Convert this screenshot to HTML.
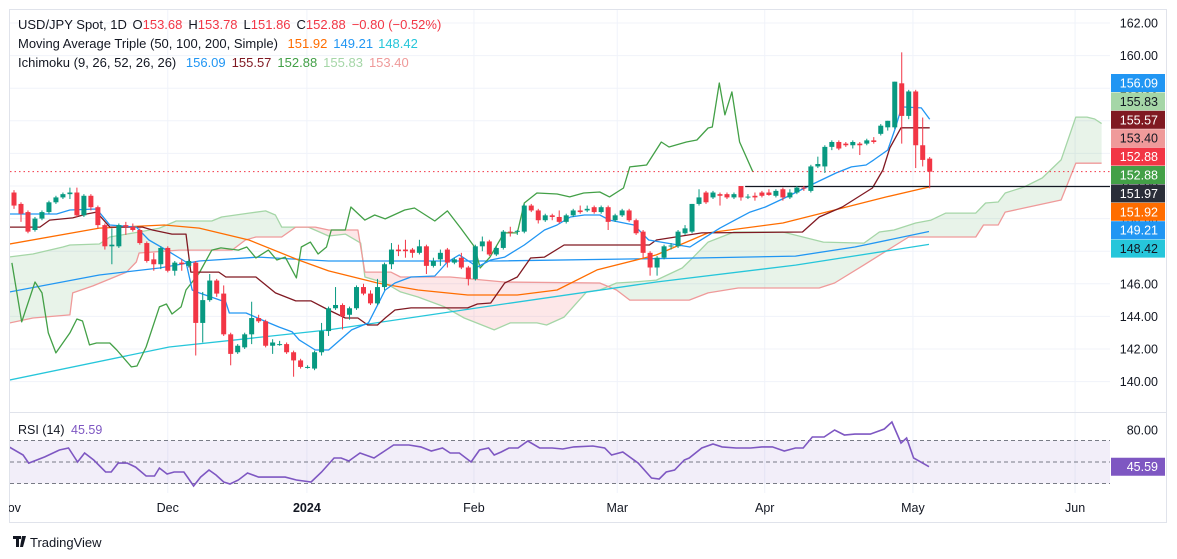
<!DOCTYPE html>
<html><head><meta charset="utf-8"><style>
html,body{margin:0;padding:0;background:#fff;width:1177px;height:559px;overflow:hidden}
svg{display:block;font-family:"Liberation Sans",sans-serif}
</style></head><body>
<svg id="chart" width="1177" height="559" viewBox="0 0 1177 559">
<defs>
<clipPath id="mainClip"><rect x="10" y="10" width="1100" height="402"/></clipPath>
<clipPath id="rsiClip"><rect x="10" y="413" width="1100" height="80"/></clipPath>
<clipPath id="timeClip"><rect x="9" y="495" width="1157" height="26"/></clipPath>
</defs>
<rect x="9.5" y="9.5" width="1157" height="513" fill="#fff" stroke="#e0e3eb"/>
<g id="grid"></g>
<g id="cloud" clip-path="url(#mainClip)"></g>
<g id="lines" clip-path="url(#mainClip)"></g>
<g id="candles" clip-path="url(#mainClip)"></g>
<g id="axis"></g>
<g id="rsi"></g>
<g id="time" clip-path="url(#timeClip)"></g>

<g font-size="13">
<text x="18" y="29" fill="#131722">USD/JPY Spot, 1D <tspan dx="2">O</tspan><tspan fill="#f23645">153.68</tspan><tspan dx="6">H</tspan><tspan fill="#f23645">153.78</tspan><tspan dx="6">L</tspan><tspan fill="#f23645">151.86</tspan><tspan dx="6">C</tspan><tspan fill="#f23645">152.88</tspan><tspan dx="6" fill="#f23645">−0.80 (−0.52%)</tspan></text>
<text x="18" y="48" fill="#131722">Moving Average Triple (50, 100, 200, Simple) <tspan dx="6" fill="#ff6d00">151.92</tspan><tspan dx="6" fill="#2196f3">149.21</tspan><tspan dx="6" fill="#26c6da">148.42</tspan></text>
<text x="18" y="67" fill="#131722">Ichimoku (9, 26, 52, 26, 26) <tspan dx="6" fill="#2196f3">156.09</tspan><tspan dx="6" fill="#801922">155.57</tspan><tspan dx="6" fill="#43a047">152.88</tspan><tspan dx="6" fill="#a5d6a7">155.83</tspan><tspan dx="6" fill="#ef9a9a">153.40</tspan></text>
</g>
<g>
<rect x="13" y="536" width="8" height="3" fill="#131722"/><rect x="16" y="536" width="3" height="11" fill="#131722"/><path d="M22 536 L26 536 L23 547 L20 547 Z" fill="#131722"/>
<text x="30" y="547" font-size="13" fill="#131722">TradingView</text>
</g>
</svg>
<script>
// ---- candle data (bar index 0 = 1 Nov 2023) ----
const opens=[151.6,150.9,150.4,149.3,150.0,150.4,151.0,151.3,151.5,151.6,150.2,151.4,150.7,149.6,148.3,148.3,149.6,149.5,149.3,148.5,147.5,147.2,148.2,146.8,147.3,147.1,147.3,143.6,145.0,146.2,145.4,142.9,141.8,142.1,142.9,143.9,143.7,142.2,142.3,142.3,141.8,141.3,140.9,140.8,141.8,
143.1,144.5,144.7,144.1,144.5,145.8,145.4,144.8,145.8,147.2,148.1,148.1,148.1,147.9,148.3,147.1,147.5,148.1,147.3,147.6,147.0,146.3,148.3,148.6,147.8,148.2,149.2,149.2,149.2,150.8,150.5,149.9,150.2,150.1,149.8,150.2,150.5,150.5,150.7,150.4,150.7,149.9,150.2,150.5,149.9,149.2,147.9,
147.0,147.6,148.3,148.3,149.1,149.2,150.9,151.6,151.3,151.5,151.5,151.3,152.0,151.3,151.4,151.6,151.6,151.4,151.8,151.3,151.6,151.9,151.7,153.2,153.2,154.4,154.7,154.6,154.5,154.6,154.6,154.8,155.2,155.6,155.6,158.3,156.3,157.8,154.5,153.68];
const highs=[151.75,151.0,150.5,150.1,150.5,151.1,151.4,151.6,151.9,151.9,151.5,151.5,150.8,149.7,149.4,149.7,149.8,149.7,149.4,148.6,147.9,148.3,148.3,147.4,147.5,147.5,147.4,145.5,146.6,146.3,145.9,143.0,142.3,143.0,144.9,144.1,143.8,142.6,142.5,142.4,141.9,141.4,141.0,141.9,143.6,
144.6,145.8,144.8,144.6,145.9,146.0,145.6,146.3,147.3,148.5,148.4,148.7,148.2,148.7,148.4,147.6,148.1,148.2,147.6,147.9,147.1,148.4,148.9,148.7,148.3,149.3,149.5,149.3,150.9,150.9,150.6,150.3,150.3,150.5,150.3,150.6,150.8,150.8,150.8,150.8,150.8,150.3,150.6,150.6,150.0,149.3,148.0,
147.7,148.4,148.5,149.3,149.6,150.9,151.8,151.7,151.7,151.6,151.6,151.6,152.0,151.5,151.6,151.7,151.8,151.8,151.9,151.8,152.0,152.0,153.3,153.8,154.5,154.8,154.8,154.7,154.8,154.7,154.9,155.0,155.8,156.0,158.4,160.2,157.9,157.9,156.2,153.78];
const lows=[150.6,149.8,149.1,149.2,149.9,150.3,150.9,151.2,151.2,150.1,150.1,150.5,149.4,148.1,147.2,148.2,149.0,149.2,148.4,147.3,146.8,146.9,146.7,146.5,146.8,147.0,141.6,142.4,144.9,145.2,142.8,141.0,141.7,142.0,142.3,143.6,142.1,141.7,142.2,141.7,140.3,140.8,140.8,140.7,141.6,
142.8,144.4,143.2,143.8,144.4,145.3,144.7,144.7,145.6,146.9,147.7,147.6,147.6,147.8,146.6,147.0,147.1,147.0,147.2,146.9,145.9,146.2,148.0,147.7,147.7,148.1,148.9,149.0,149.1,150.4,149.7,149.8,149.9,149.7,149.7,150.1,150.3,150.4,150.3,150.3,149.3,149.8,150.1,149.8,149.0,147.6,146.5,
146.5,147.5,148.1,148.2,149.0,149.1,150.8,150.9,151.2,150.8,151.2,151.2,151.1,151.2,151.1,151.3,151.4,151.3,151.1,151.2,151.5,151.7,151.6,153.1,152.8,154.2,154.2,154.4,154.3,153.9,154.5,154.6,155.1,155.4,155.5,154.6,156.1,153.1,153.2,151.86];
const closes=[150.8,150.3,149.2,150.0,150.4,151.0,151.3,151.5,151.6,150.2,151.4,150.7,149.6,148.3,148.4,149.6,149.5,149.3,148.5,147.4,147.2,148.2,146.8,147.3,147.2,147.4,143.6,145.0,146.2,145.4,142.9,141.7,142.2,142.9,143.9,143.7,142.2,142.4,142.3,141.8,141.3,140.9,140.9,141.8,143.1,
144.5,144.7,144.0,144.5,145.8,145.4,144.8,145.8,147.2,148.1,148.0,148.0,147.9,148.3,147.1,147.4,147.9,147.3,147.5,147.0,146.3,148.3,148.6,147.8,148.2,149.2,149.15,149.25,150.8,150.5,149.9,150.2,150.1,149.8,150.2,150.5,150.4,150.6,150.4,150.7,149.8,150.2,150.5,149.9,149.1,147.9,147.0,
147.6,148.3,148.35,149.2,149.4,150.9,151.3,151.0,151.6,151.4,151.3,151.5,151.3,151.35,151.3,151.4,151.45,151.7,151.3,151.6,151.9,151.85,153.2,153.35,154.4,154.7,154.3,154.5,154.7,154.5,154.8,154.7,155.7,156.0,158.4,156.3,157.8,154.5,153.6,152.88];

// ---- indicator lines: vertex bar indices + values ----
const ma50Idx=[-0.6,12.2,21.5,26.5,33.6,40.7,45,52,57.8,64.9,72,77.7,83.4,91.9,99.3,110,117.4,124.8,130.9];
const ma50Val=[148.44,149.42,149.61,149.42,148.69,147.46,146.79,146.05,145.62,145.31,145.31,145.62,146.85,147.77,149.12,149.73,150.53,151.33,151.94];
const ma100Idx=[-0.6,12.2,20.8,26.5,35,45,69.1,97.6,111.8,120.3,130.9];
const ma100Val=[145.5,146.54,146.97,147.4,147.64,147.4,147.4,147.58,147.7,148.26,149.21];
const ma200Idx=[-0.6,22.2,45,69.1,91.9,111.8,130.9];
const ma200Val=[140.1,142.12,143.17,144.7,146.11,147.15,148.42];
const tenkanIdx=[-0.6,6.1,8.0,11.8,12.3,13.7,17.5,19.3,21.8,24.6,25.5,26.5,30.3,30.8,33.2,35.5,37.9,39.8,40.8,43.1,45.0,48.3,50.7,53.1,54.5,56.8,60.2,62.0,63.7,64.8,66.3,68.2,70.2,73.0,75.9,77.7,79.6,81.6,83.8,85.2,88.7,89.8,90.8,96.7,97.8,101.0,103.7,105.3,107.5,110.2,113.4,117.6,119.8,121.9,123.0,125.0,126.1,127.0,129.8,131.0];
const tenkanVal=[150.28,150.28,150.53,150.59,150.34,149.61,149.48,148.69,148.07,147.34,145.62,145.44,144.88,144.21,144.21,143.78,143.35,143.05,142.56,141.94,141.94,143.17,143.6,145.62,146.05,146.42,146.48,147.34,147.77,147.46,147.03,147.46,147.64,148.38,149.3,149.61,150.1,150.22,150.22,149.91,149.61,149.12,148.69,148.26,148.56,149.42,150.04,150.4,150.71,151.26,151.94,152.8,153.17,153.29,153.6,154.21,155.56,156.85,156.79,156.09];
const kijunIdx=[-0.6,3.7,5.1,8.4,10.4,11.8,13.7,18.4,19.8,22.6,24.6,25.3,29.3,30.3,34.6,37.4,40.3,42.5,45.0,47.4,49.2,50.6,52.0,53.1,54.5,56.8,64.9,66.3,68.2,70.2,72.0,73.9,75.9,78.7,90.9,91.9,98.4,112.8,115.2,118.5,122.8,124.3,125.3,126.9,131.0];
const kijunVal=[149.48,149.48,149.91,150.04,150.28,150.4,149.48,149.48,149.3,149.05,149.05,146.72,146.72,146.42,146.42,145.44,144.95,144.95,144.39,143.9,143.9,143.47,143.47,143.9,144.39,144.52,144.52,144.76,144.82,146.05,146.42,147.58,147.64,148.38,148.38,148.69,149.12,149.18,150.1,150.71,151.88,152.98,154.33,155.57,155.57];
const chikouIdx=[-0.3,1.1,3.0,4.0,4.9,6.0,8.0,9.0,9.8,10.8,11.8,13.7,14.7,16.8,17.6,18.9,20.8,21.8,22.6,23.9,24.6,26.5,28.3,29.6,32.1,33.3,34.6,36.4,37.6,38.8,40.4,41.1,42.4,43.5,44.7,45.4,47.4,48.2,50.2,51.6,53.1,55.9,57.3,60.2,62.0,63.9,65.9,66.7,68.1,70.1,72.0,73.0,74.8,77.7,79.5,81.5,83.8,85.2,87.2,88.1,90.5,92.6,93.7,96.2,97.7,99.3,99.9,100.9,101.7,102.7,103.8,105.7];
const chikouVal=[147.28,143.66,146.11,145.44,142.99,141.76,142.99,143.84,143.72,142.25,142.37,142.37,141.94,140.9,140.96,142.12,144.58,144.76,144.15,144.58,145.62,146.66,148.07,148.2,148.07,148.26,147.58,148.07,147.46,147.64,146.36,148.26,148.56,147.83,148.26,149.3,149.3,150.71,149.91,150.22,149.98,150.53,150.65,149.85,150.47,149.42,148.26,146.97,147.64,149.12,149.12,150.96,151.57,151.51,151.33,151.57,151.63,151.33,151.88,153.17,153.29,154.7,154.39,154.7,154.82,155.56,155.62,158.32,156.36,157.77,154.7,152.88];
const spanAIdx=[-0.6,2.7,7.0,8.0,12.2,13.7,17.9,20.8,23.2,28.3,29.7,33.6,36.0,37.4,38.3,42.1,45.0,47.4,49.6,50.2,53.1,55.3,57.8,61.6,64.4,68.7,71.0,74.8,76.2,78.7,81.9,83.8,86.2,88.6,91.9,95.6,97.2,99.3,103.0,110.0,115.8,121.6,123.8,125.9,129.0,131.2,133.3,137.6,139.0,140.8,141.8,144.5,147.1,149.8,151.9,153.5,154.6,155.6];
const spanAVal=[147.65,147.83,148.26,148.38,148.44,148.87,149.18,149.42,149.85,149.85,150.1,150.34,150.47,150.22,149.48,149.48,148.93,149.05,148.5,146.42,146.05,145.5,145.19,144.58,143.9,143.17,143.6,143.6,143.47,143.96,145.5,145.62,146.05,146.11,146.23,146.97,147.64,148.56,149.18,149.18,148.56,148.5,149.18,149.3,149.73,149.91,150.34,150.34,150.96,151.02,151.57,151.94,152.49,153.6,156.23,156.23,156.11,155.83];
const spanBIdx=[-0.6,2.7,8.0,8.4,11.3,16.1,17.5,17.9,23.6,31.2,33.1,34.6,38.3,40.3,43.1,45.0,49.2,50.2,53.9,55.3,62.4,70.1,83.8,86.2,88.1,96.6,99.3,103.6,115.2,117.4,121.6,128.0,137.6,138.7,140.8,141.8,144.5,149.8,151.9,155.6];
const spanBVal=[143.6,143.9,144.09,145.44,145.87,146.72,147.34,147.89,148.07,148.07,148.69,148.87,148.87,149.48,149.48,149.3,149.3,146.72,146.72,146.42,146.42,146.11,146.05,145.62,145.0,145.0,145.44,145.74,145.74,146.05,147.16,148.87,148.87,149.61,149.61,150.4,150.65,151.14,153.4,153.4];
// ---- RSI ----
const rsiIdx=[-0.7,1.3,2.1,4.4,6.5,7.8,9.1,10.1,11.4,13.1,13.9,14.9,16.2,17.4,18.9,20.1,20.8,21.9,22.9,24.3,24.9,25.7,26.7,27.9,28.9,30.0,30.9,32.1,33.4,35.0,36.7,38.8,40.4,42.5,44.0,45.8,46.8,47.9,49.5,51.5,52.8,54.3,56.5,58.2,59.7,61.3,62.4,63.7,65.4,66.6,67.9,68.7,69.7,70.8,72.1,73.5,75.2,77.0,78.5,80.1,82.8,84.5,85.5,87.1,89.3,91.2,92.3,93.3,94.5,95.9,96.6,98.4,100.0,101.3,103.3,105.4,107.0,108.5,110.2,111.8,112.9,114.2,115.9,117.4,118.8,120.3,122.5,124.5,125.6,126.9,127.7,128.7,130.9];
const rsiVal=[64,56.5,49,54.7,61.2,63,50,58.4,51.9,40.7,40.7,49,49,45.3,37,37,44.4,38.8,40.7,40.7,35.1,27.7,36,42.6,37.9,31.4,29.5,33.3,39.8,36,36,36,33.3,31.4,40.7,53.7,53.7,50.9,58.4,53.7,59.3,65.8,65.8,64,60.2,63,58.4,58.4,50,61.2,63,56.5,59.3,63,63,69.5,63,63,62.1,64,64.9,63,56.5,59.3,49,35.1,34.2,40.7,42.6,51.9,53.7,63,66.7,64,63,63,64,64,60.2,63,63,73.3,73.3,79.8,75.1,76,76,80.7,87.2,67.7,72.3,53.7,45.59];
const lastClose=152.88, hLine=151.97, hLineStartIdx=104.6;
// ---- axes ----
const priceTicks=[140,142,144,146,148,150,152,154,156,158,160,162];
const priceTickLabels=["140.00","142.00","144.00","146.00","148.00","150.00","152.00","154.00","156.00","158.00","160.00","162.00"];
const monthIdx=[-0.6,22.0,41.9,65.8,86.3,107.4,128.6,151.8];
const monthLabels=["Nov","Dec","2024","Feb","Mar","Apr","May","Jun"];
const badgeVals=["156.09","155.83","155.57","153.40","152.88","152.88","151.97","151.92","149.21","148.42"];
const badgeBg=["#2196f3","#a5d6a7","#801922","#ef9a9a","#f23645","#43a047","#2a2e39","#ff6d00","#2196f3","#26c6da"];
const badgeFg=["#fff","#131722","#fff","#131722","#fff","#fff","#fff","#fff","#fff","#131722"];

const NS="http://www.w3.org/2000/svg";
const X=i=>14+i*6.99;
const Y=p=>23+(162-p)*16.3;
const RY=r=>462-(r-50)*1.075;
function el(tag,attrs,parent){const e=document.createElementNS(NS,tag);for(const k in attrs)e.setAttribute(k,attrs[k]);parent.appendChild(e);return e;}
function interp(ix,vals,t){if(t<=ix[0])return vals[0];for(let k=1;k<ix.length;k++){if(t<=ix[k]){const f=(t-ix[k-1])/(ix[k]-ix[k-1]);return vals[k-1]+f*(vals[k]-vals[k-1]);}}return vals[vals.length-1];}

// grid
const grid=document.getElementById('grid');
priceTicks.forEach(p=>{const l=el('line',{x1:10,x2:1110,y1:Y(p),y2:Y(p),stroke:'#f0f3fa'},grid);

});
monthIdx.forEach(m=>{if(X(m)<12)return;const l=el('line',{x1:X(m),x2:X(m),y1:10,y2:493,stroke:'#f0f3fa'},grid);

});

// cloud: contiguous same-colour runs as single polygons
const cloud=document.getElementById('cloud');
const c0=spanAIdx[0],c1=spanAIdx[spanAIdx.length-1],st=0.2;
let run=null;const runs=[];
for(let t=c0;t<=c1+1e-9;t+=st){const a=interp(spanAIdx,spanAVal,t),b=interp(spanBIdx,spanBVal,t);const g=a>=b;
if(!run||run.g!==g){if(run){run.pts.push([t,a,b]);}run={g:g,pts:[]};runs.push(run);}
run.pts.push([t,a,b]);}
runs.forEach(r=>{if(r.pts.length<2)return;
const up=r.pts.map(q=>X(q[0]).toFixed(1)+','+Y(q[1]).toFixed(1));
const dn=r.pts.slice().reverse().map(q=>X(q[0]).toFixed(1)+','+Y(q[2]).toFixed(1));
const p=el('polygon',{points:up.concat(dn).join(' '),fill:r.g?'rgba(67,160,71,0.12)':'rgba(242,54,69,0.12)'},cloud);

});

// lines
const lines=document.getElementById('lines');
function poly(ix,vals,color,name,w){const pts=ix.map((t,k)=>X(t).toFixed(1)+','+Y(vals[k]).toFixed(1)).join(' ');const p=el('polyline',{points:pts,fill:'none',stroke:color,'stroke-width':w||1.3,'stroke-linejoin':'round'},lines);

}
poly(spanAIdx,spanAVal,'#a5d6a7','senkou-span-a');
poly(spanBIdx,spanBVal,'#ef9a9a','senkou-span-b');
poly(ma200Idx,ma200Val,'#26c6da','ma-200');
poly(ma100Idx,ma100Val,'#2196f3','ma-100');
poly(ma50Idx,ma50Val,'#ff6d00','ma-50');
poly(chikouIdx,chikouVal,'#43a047','chikou-span');
poly(kijunIdx,kijunVal,'#801922','kijun-sen');
poly(tenkanIdx,tenkanVal,'#2196f3','tenkan-sen');
const hl=el('line',{x1:X(hLineStartIdx),x2:1110,y1:Y(hLine),y2:Y(hLine),stroke:'#131722','stroke-width':1.2},lines);


const pl=el('line',{x1:10,x2:1110,y1:Y(lastClose),y2:Y(lastClose),stroke:'#f23645','stroke-dasharray':'1.5 3'},lines);



// candles
const cg=document.getElementById('candles');
for(let i=0;i<closes.length;i++){const up=closes[i]>=opens[i];const col=up?'#089981':'#f23645';const x=X(i);
const w=el('line',{x1:x,x2:x,y1:Y(highs[i]),y2:Y(lows[i]),stroke:col,'stroke-width':1},cg);


const top=Y(Math.max(opens[i],closes[i])),bot=Y(Math.min(opens[i],closes[i]));
const b=el('rect',{x:x-2.5,y:top,width:5,height:Math.max(1,bot-top),fill:col},cg);

}

// price axis
const ax=document.getElementById('axis');
priceTicks.forEach((p,k)=>{const t=el('text',{x:1158,y:Y(p)+4.5,'text-anchor':'end','font-size':12.5,fill:'#131722'},ax);t.textContent=priceTickLabels[k];

});
badgeVals.forEach((v,k)=>{const yc=83+k*18.4;const r=el('rect',{x:1111,y:yc-9,width:54,height:18,fill:badgeBg[k]},ax);


const t=el('text',{x:1158,y:yc+4.5,'text-anchor':'end','font-size':12.5,fill:badgeFg[k]},ax);t.textContent=v;

});

// RSI pane
const rg=document.getElementById('rsi');
const sep=el('line',{x1:10,x2:1166,y1:412.5,y2:412.5,stroke:'#e0e3eb'},rg);


const band=el('rect',{x:10,y:RY(70),width:1100,height:RY(30)-RY(70),fill:'rgba(126,87,194,0.1)'},rg);


[70,50,30].forEach(v=>{const l=el('line',{x1:10,x2:1110,y1:RY(v),y2:RY(v),stroke:'#787b86','stroke-dasharray':'4 3'},rg);

});
const rpts=rsiIdx.map((t,k)=>X(t).toFixed(1)+','+RY(rsiVal[k]).toFixed(1)).join(' ');
const rl=el('polyline',{points:rpts,fill:'none',stroke:'#7e57c2','stroke-width':1.6,'clip-path':'url(#rsiClip)'},rg);


const rt=el('text',{x:18,y:434,'font-size':12.5,fill:'#131722'},rg);rt.innerHTML='RSI (14) <tspan fill="#7e57c2" dx="3">45.59</tspan>';


const r80=el('text',{x:1158,y:RY(80)+4.5,'text-anchor':'end','font-size':12.5,fill:'#131722'},rg);r80.textContent='80.00';


const rb=el('rect',{x:1111,y:RY(45.59)-9,width:54,height:18,fill:'#7e57c2'},rg);


const rbt=el('text',{x:1158,y:RY(45.59)+4.5,'text-anchor':'end','font-size':12.5,fill:'#fff'},rg);rbt.textContent='45.59';



// time axis
const tg=document.getElementById('time');
monthLabels.forEach((m,k)=>{const t=el('text',{x:Math.max(X(monthIdx[k]),4),y:512,'text-anchor':'middle','font-size':12.5,fill:'#131722','font-weight':m==='2024'?'bold':'normal'},tg);t.textContent=m;

});
</script>
</body></html>
